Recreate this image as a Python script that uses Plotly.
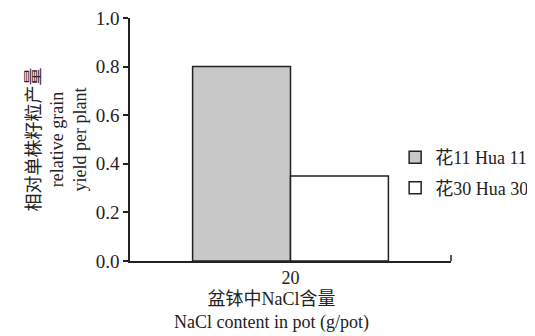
import plotly.graph_objects as go

categories = ["20"]
hua11 = [0.80]
hua30 = [0.35]
series_names = ["花11 Hua 11", "花30 Hua 30"]
y_ticks = [0.0, 0.2, 0.4, 0.6, 0.8, 1.0]
y_ticklabels = ["0.0", "0.2", "0.4", "0.6", "0.8", "1.0"]
x_title = "盆钵中NaCl含量<br>NaCl content in pot (g/pot)"
y_title = "相对单株籽粒产量<br>relative grain<br>yield per plant"

font_fam = "Liberation Serif, Noto Sans CJK SC, serif"

fig = go.Figure()
fig.add_trace(go.Bar(x=categories, y=hua11, name=series_names[0], legendgroup="a",
                     marker=dict(color="#c8c8c8", line=dict(color="#222222", width=1.5))))
fig.add_trace(go.Bar(x=categories, y=hua30, name=series_names[1], legendgroup="b",
                     marker=dict(color="#ffffff", line=dict(color="#222222", width=1.5))))

fig.update_layout(
    width=535, height=328,
    margin=dict(l=122, r=76, t=10, b=75),
    paper_bgcolor="white", plot_bgcolor="white",
    barmode="group", bargap=0.39, bargroupgap=0,
    font=dict(family=font_fam, size=18, color="#222222"),
    showlegend=True,
    legend=dict(x=0.826, y=0.364, xanchor="left", yanchor="middle",
                font=dict(family=font_fam, size=18, color="#222222"),
                bgcolor="rgba(0,0,0,0)", itemwidth=30, tracegroupgap=4),
    xaxis=dict(type="category", range=[-0.5, 0.5], showline=True, linecolor="#222222",
               linewidth=1.5, ticks="", showgrid=False, zeroline=False, automargin=False,
               tickfont=dict(size=18)),
    yaxis=dict(range=[0, 1.0], tickvals=y_ticks, ticktext=y_ticklabels,
               showline=True, linecolor="#222222", linewidth=1.5,
               ticks="outside", ticklen=5, tickwidth=1.5, tickcolor="#222222",
               ticklabeloverflow="allow",
               showgrid=False, zeroline=False, automargin=False, tickfont=dict(size=19),
               title=dict(text=y_title, font=dict(size=18), standoff=4)),
)
# x-axis title, slightly left of the axis centre as in the reference
fig.add_annotation(text=x_title, xref="paper", yref="paper", x=0.442, y=-0.105,
                   xanchor="center", yanchor="top", showarrow=False, align="center",
                   font=dict(family=font_fam, size=18, color="#222222"))
# small upward tick at right end of x axis
fig.add_shape(type="line", xref="paper", yref="paper", x0=1, x1=1, y0=0, y1=0.025,
              line=dict(color="#222222", width=1.5))

fig.write_html("out.html")
